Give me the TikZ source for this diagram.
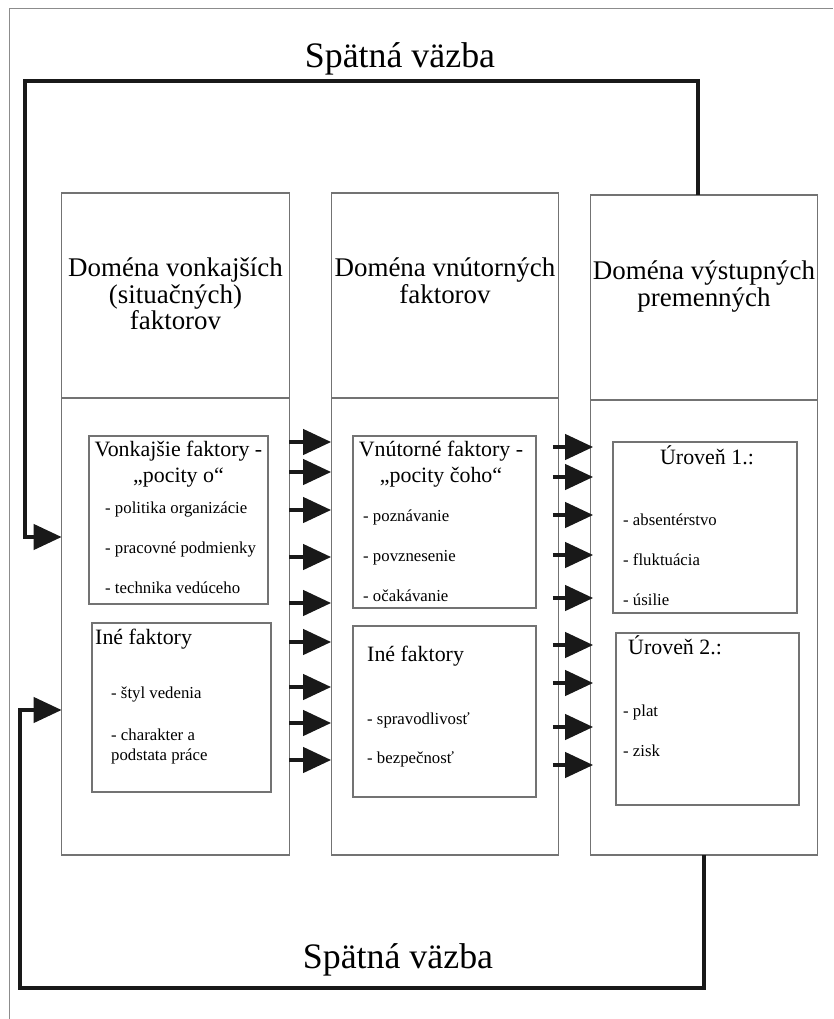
\documentclass[tikz,border=0pt]{standalone}
\usepackage{fontspec}
\setmainfont{Liberation Serif}
\usetikzlibrary{arrows.meta}

\tikzset{
  colbox/.style={rectangle, draw=black!55, line width=0.9pt, inner sep=0pt, outer sep=0pt, minimum width=6.83cm},
  factorbox/.style={rectangle, draw=black!55, line width=0.9pt, inner sep=0pt, outer sep=0pt},
  headtext/.style={inner sep=0pt, align=center, anchor=north, font=\fontsize{23}{22.5}\selectfont},
  boxtitle/.style={inner sep=0pt, align=center, font=\fontsize{18.7}{22.1}\selectfont},
  itemlist/.style={inner sep=0pt, align=left, anchor=north west, font=\fontsize{14.3}{17}\selectfont},
  feedtext/.style={inner sep=0pt, anchor=base, font=\fontsize{30.6}{36}\selectfont},
  flow/.style={line width=3.6pt, draw=black!90, -{Triangle[length=0.84cm, width=0.75cm]}},
  flowb/.style={flow, shorten <=-0.18cm, shorten >=-0.09cm},
  feedback/.style={line width=3.6pt, draw=black!90, -{Triangle[length=0.84cm, width=0.75cm]}},
}

\begin{document}
\begin{tikzpicture}[x=0.03cm, y=-0.03cm]
    \useasboundingbox (0,0) rectangle (833,1019);
    \draw[black!45, line width=0.8pt] (9,1019) -- (9,8) -- (833,8);

    % domains
    \node[colbox, minimum height=6.15cm] (hd1) at (175.5,295.5) {};
    \node[colbox, minimum height=6.15cm] (hd2) at (445,295.5) {};
    \node[colbox, minimum height=6.15cm] (hd3) at (704,297.5) {};
    \node[colbox, minimum height=13.71cm] (bd1) at (175.5,626.5) {};
    \node[colbox, minimum height=13.71cm] (bd2) at (445,626.5) {};
    \node[colbox, minimum height=13.65cm] (bd3) at (704,627.5) {};

    \node[headtext] (hd1t) at (175.5,258) {Doména vonkajších\\(situačných)\\faktorov};
    \node[headtext] (hd2t) at (445,258) {Doména vnútorných\\faktorov};
    \node[headtext] (hd3t) at (704,261) {Doména výstupných\\premenných};

    % factor boxes
    \node[factorbox, minimum width=5.37cm, minimum height=5.04cm] (in1a) at (178.5,520) {};
    \node[factorbox, minimum width=5.37cm, minimum height=5.07cm] (in1b) at (181.5,707.5) {};
    \node[factorbox, minimum width=5.49cm, minimum height=5.16cm] (in2a) at (444.5,522) {};
    \node[factorbox, minimum width=5.49cm, minimum height=5.13cm] (in2b) at (444.5,711.5) {};
    \node[factorbox, minimum width=5.52cm, minimum height=5.13cm] (in3a) at (705,527.5) {};
    \node[factorbox, minimum width=5.49cm, minimum height=5.16cm] (in3b) at (707.5,719) {};

    \node[boxtitle, anchor=north] (ti1a) at (178.5,441) {Vonkajšie faktory -\\„pocity o“};
    \node[boxtitle, anchor=base west] (ti1b) at (95,644) {Iné faktory};
    \node[boxtitle, anchor=north] (ti2a) at (441,441) {Vnútorné faktory -\\„pocity čoho“};
    \node[boxtitle, anchor=base west] (ti2b) at (367,661) {Iné faktory};
    \node[boxtitle, anchor=base] (ti3a) at (707,464) {Úroveň 1.:};
    \node[boxtitle, anchor=base west] (ti3b) at (628,654) {Úroveň 2.:};

    \node[itemlist] (li1a) at (105,502) {- politika organizácie\\[17pt]- pracovné podmienky\\[17pt]- technika vedúceho};
    \node[itemlist] (li1b) at (111,687) {- štyl vedenia\\[18.5pt]- charakter a\\podstata práce};
    \node[itemlist] (li2a) at (363,510) {- poznávanie\\[17pt]- povznesenie\\[17pt]- očakávanie};
    \node[itemlist] (li2b) at (367,712) {- spravodlivosť\\[17pt]- bezpečnosť};
    \node[itemlist] (li3a) at (623,514) {- absentérstvo\\[17pt]- fluktuácia\\[17pt]- úsilie};
    \node[itemlist] (li3b) at (623,705) {- plat\\[17pt]- zisk};

    % flows between domains
    \draw[flow] (bd1.east |- 0,442) -- (bd2.west |- 0,442);
    \draw[flow] (bd1.east |- 0,472) -- (bd2.west |- 0,472);
    \draw[flow] (bd1.east |- 0,510) -- (bd2.west |- 0,510);
    \draw[flow] (bd1.east |- 0,557) -- (bd2.west |- 0,557);
    \draw[flow] (bd1.east |- 0,603) -- (bd2.west |- 0,603);
    \draw[flow] (bd1.east |- 0,642) -- (bd2.west |- 0,642);
    \draw[flow] (bd1.east |- 0,687) -- (bd2.west |- 0,687);
    \draw[flow] (bd1.east |- 0,723) -- (bd2.west |- 0,723);
    \draw[flow] (bd1.east |- 0,760) -- (bd2.west |- 0,760);

    \draw[flowb] (bd2.east |- 0,447) -- (bd3.west |- 0,447);
    \draw[flowb] (bd2.east |- 0,477) -- (bd3.west |- 0,477);
    \draw[flowb] (bd2.east |- 0,515) -- (bd3.west |- 0,515);
    \draw[flowb] (bd2.east |- 0,555) -- (bd3.west |- 0,555);
    \draw[flowb] (bd2.east |- 0,598) -- (bd3.west |- 0,598);
    \draw[flowb] (bd2.east |- 0,645) -- (bd3.west |- 0,645);
    \draw[flowb] (bd2.east |- 0,683) -- (bd3.west |- 0,683);
    \draw[flowb] (bd2.east |- 0,727) -- (bd3.west |- 0,727);
    \draw[flowb] (bd2.east |- 0,765) -- (bd3.west |- 0,765);

    % feedback loops
    \node[feedtext] (fbtop) at (400,68) {Spätná väzba};
    \node[feedtext] (fbbot) at (398,968) {Spätná väzba};
    \draw[feedback] ([xshift=-0.18cm]hd3.north) |- (25,81) |- (bd1.west |- 0,537);
    \draw[feedback] (bd3.south) |- (20,988) |- (bd1.west |- 0,710);
\end{tikzpicture}
\end{document}
